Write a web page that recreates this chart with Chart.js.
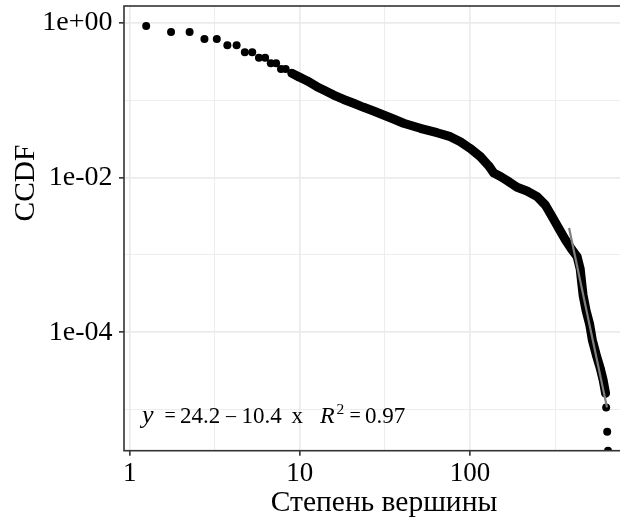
<!DOCTYPE html>
<html><head><meta charset="utf-8">
<style>
html,body{margin:0;padding:0;overflow:hidden;background:#fff;width:620px;height:521px}
#wrap{position:relative;width:650px;height:521px}
canvas{display:block}
</style>
<script src="https://cdn.jsdelivr.net/npm/chart.js@4.4.1/dist/chart.umd.min.js"></script>
</head><body><div id="wrap"><canvas id="c" width="650" height="521"></canvas></div>
<script>
// ---- axis breaks and labels ----
const xMajorTicks = [1, 10, 100];
const xMinorTicks = [3.162, 31.62, 316.2];
const xTickLabels = ['1', '10', '100'];
const yMajorTicks = [1, 1e-2, 1e-4];
const yMinorTicks = [1e-1, 1e-3, 1e-5];
const yTickLabels = ['1e+00', '1e-02', '1e-04'];
const xTitle = 'Степень вершины';
const yTitle = 'CCDF';

// ---- data: low degrees (separate dots) ----
const degreeLow = [1.25, 1.75, 2.25, 2.75, 3.25, 3.75, 4.25, 4.75, 5.25, 5.75, 6.25, 6.75, 7.25, 7.75, 8.25];
const ccdfLow   = [0.906, 0.758, 0.758, 0.616, 0.616, 0.511, 0.511, 0.415, 0.415, 0.353, 0.353, 0.299, 0.299, 0.252, 0.252];

// ---- data: dense body of the distribution ----
const degreeBody = [8.97, 9.81, 11.0, 12.6, 13.8, 15.8, 18.1, 20.7, 23.7, 27.1, 31.0, 35.5, 40.7, 51.0, 64.0, 76.6, 87.7, 100, 115, 129, 138, 151, 169, 189, 216, 248, 277, 304, 332, 364, 398, 426, 444, 452, 462, 481, 505, 523, 552, 583, 605, 626];
const ccdfBody   = [0.222, 0.201, 0.178, 0.149, 0.135, 0.116, 0.102, 0.0909, 0.0807, 0.0723, 0.0642, 0.0570, 0.0502, 0.0432, 0.0379, 0.0337, 0.0290, 0.0238, 0.0186, 0.0141, 0.0114, 0.0103, 0.00883, 0.00747, 0.00669, 0.00565, 0.00441, 0.00311, 0.00221, 0.00156, 0.00116, 0.000948, 0.000660, 0.000460, 0.000300, 0.000190, 0.000126, 8.00e-5, 5.10e-5, 3.40e-5, 2.45e-5, 1.63e-5];

// ---- data: tail dots (last one sits on the lower panel edge) ----
const degreeTail = [631, 640, 647];
const ccdfTail   = [1.07e-5, 5.2e-6, 2.95e-6];

// ---- fitted line: log10(y) = 24.2 - 10.4 log10(x) ----
const fitDegree = [382, 638];
const fitCcdf   = [2.23e-3, 1.07e-5];
const eqIntercept = '24.2', eqSlope = '10.4', eqR2 = '0.97';

const toPts = (xs, ys) => xs.map((x, i) => ({x: x, y: ys[i]}));
const near = (arr, v) => arr.some(a => Math.abs(Math.log10(a) - Math.log10(v)) < 1e-6);
const SERIF = "'Liberation Serif','Times New Roman',serif";

const frame = {
  id: 'frame',
  afterDatasetsDraw(chart) {
    const {ctx, chartArea: a} = chart;
    ctx.save();
    ctx.strokeStyle = '#333333';
    ctx.lineWidth = 1.6;
    ctx.strokeRect(a.left, a.top, a.right - a.left, a.bottom - a.top);
    // equation annotation
    ctx.fillStyle = '#000';
    ctx.textBaseline = 'alphabetic';
    ctx.textAlign = 'left';
    const base = 422.5, fs = 23;
    const put = (t, x, style, size, dy) => {
      ctx.font = (style || '') + ' ' + (size || fs) + 'px ' + SERIF;
      ctx.fillText(t, x, base + (dy || 0));
    };
    put('y', 142, 'italic', 26);
    put('=', 164.5, '', 20, -1);
    put(eqIntercept, 180);
    put('\u2013', 226, '', 20, -1);
    put(eqSlope, 241.5);
    put('x', 291.5);
    put('R', 320, 'italic', 24);
    put('2', 336.5, '', 15.5, -8.5);
    put('=', 349.5, '', 20, -1);
    put(eqR2, 365);
    // y axis title
    ctx.save();
    ctx.translate(26, 183);
    ctx.rotate(-Math.PI / 2);
    ctx.font = '29.5px ' + SERIF;
    ctx.textAlign = 'center';
    ctx.textBaseline = 'middle';
    ctx.fillText(yTitle, 0, 0);
    ctx.restore();
    ctx.restore();
  }
};

const gridOpts = (majors) => ({
  color: '#EBEBEB',
  lineWidth: c => near(majors, c.tick.value) ? 1.7 : 0.9,
  tickColor: c => near(majors, c.tick.value) ? '#333333' : 'rgba(0,0,0,0)',
  tickLength: 5,
  tickWidth: 1.6,
  drawTicks: true
});

new Chart(document.getElementById('c'), {
  type: 'scatter',
  data: {
    datasets: [
      {label: 'fit', data: toPts(fitDegree, fitCcdf), showLine: true, borderColor: '#7f7f7f', borderWidth: 2.2, pointRadius: 0, order: 0, clip: 0},
      {label: 'low', data: toPts(degreeLow, ccdfLow), backgroundColor: '#000', pointRadius: 4, borderWidth: 0, order: 2, clip: 0},
      {label: 'body', data: toPts(degreeBody, ccdfBody), showLine: true, borderColor: '#000', borderWidth: 9, borderCapStyle: 'round', borderJoinStyle: 'round', backgroundColor: '#000', pointRadius: 4, pointBorderWidth: 0, order: 2, clip: 0},
      {label: 'tail', data: toPts(degreeTail, ccdfTail), backgroundColor: '#000', pointRadius: 4, borderWidth: 0, order: 2, clip: 0}
    ]
  },
  options: {
    responsive: false,
    animation: false,
    devicePixelRatio: 1,
    layout: {padding: {left: 0, top: 6, right: 6, bottom: 0}},
    plugins: {legend: {display: false}, tooltip: {enabled: false}},
    scales: {
      x: {
        type: 'logarithmic', min: 0.926, max: 1053, bounds: 'data',
        afterBuildTicks: s => { s.ticks = xMajorTicks.concat(xMinorTicks).sort((a, b) => a - b).map(v => ({value: v})); },
        afterFit: s => { s.height = 70.3; s.paddingLeft = 0; s.paddingRight = 0; },
        ticks: {autoSkip: false, maxRotation: 0, padding: 2.5, color: '#000', font: {family: SERIF, size: 27},
          callback: v => { const i = xMajorTicks.findIndex(a => Math.abs(a - v) < 1e-9); return i >= 0 ? xTickLabels[i] : ''; }},
        grid: gridOpts(xMajorTicks),
        border: {display: false},
        title: {display: true, text: xTitle, color: '#000', font: {family: SERIF, size: 29.5}, padding: {top: 0, bottom: 0}}
      },
      y: {
        type: 'logarithmic', min: 2.95e-6, max: 1.644, bounds: 'data',
        afterBuildTicks: s => { s.ticks = yMajorTicks.concat(yMinorTicks).sort((a, b) => a - b).map(v => ({value: v})); },
        afterFit: s => { s.width = 124; s.paddingTop = 0; s.paddingBottom = 0; },
        ticks: {autoSkip: false, padding: 6.5, color: '#000', font: {family: SERIF, size: 28},
          callback: v => { const i = yMajorTicks.findIndex(a => Math.abs(Math.log10(a) - Math.log10(v)) < 1e-9); return i >= 0 ? yTickLabels[i] : ''; }},
        grid: gridOpts(yMajorTicks),
        border: {display: false}
      }
    }
  },
  plugins: [frame]
});
</script>
</body></html>
